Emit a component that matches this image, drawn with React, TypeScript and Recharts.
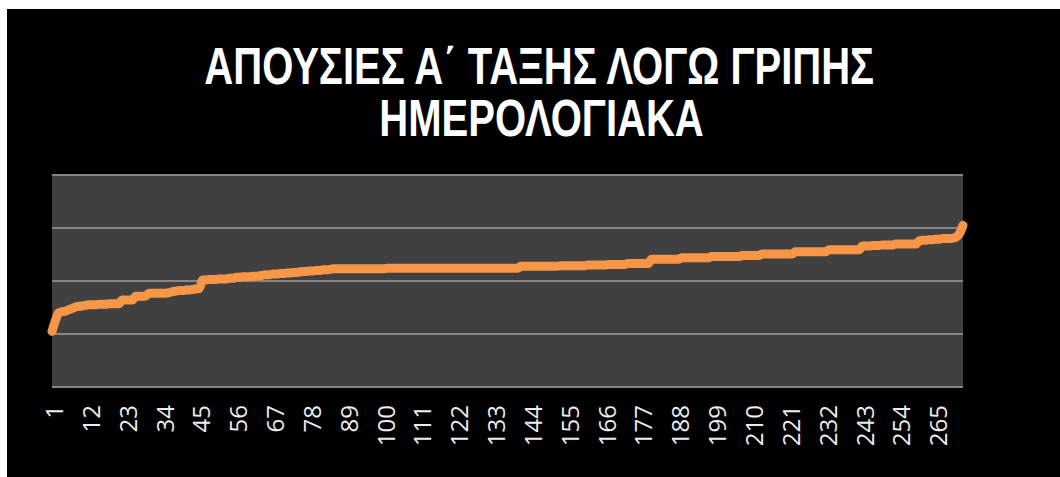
import React from 'react';
import { LineChart, Line, XAxis, YAxis, CartesianGrid } from 'recharts';

// absences per day, sorted (y in gridline units)
const absences = [
  1.05, 1.25, 1.4, 1.42, 1.43, 1.46, 1.48, 1.51, 1.52, 1.53,
  1.54, 1.55, 1.55, 1.55, 1.56, 1.56, 1.56, 1.57, 1.57, 1.57,
  1.57, 1.64, 1.64, 1.64, 1.64, 1.71, 1.71, 1.71, 1.72, 1.77,
  1.77, 1.77, 1.77, 1.77, 1.77, 1.78, 1.8, 1.81, 1.82, 1.82,
  1.83, 1.83, 1.84, 1.85, 1.86, 2.02, 2.02, 2.03, 2.03, 2.03,
  2.04, 2.04, 2.04, 2.05, 2.05, 2.07, 2.07, 2.08, 2.08, 2.08,
  2.09, 2.09, 2.1, 2.11, 2.12, 2.12, 2.13, 2.13, 2.14, 2.14,
  2.15, 2.15, 2.16, 2.16, 2.17, 2.18, 2.18, 2.19, 2.19, 2.2,
  2.2, 2.21, 2.21, 2.22, 2.23, 2.23, 2.23, 2.23, 2.23, 2.23,
  2.23, 2.23, 2.23, 2.23, 2.23, 2.23, 2.23, 2.23, 2.23, 2.23,
  2.24, 2.24, 2.24, 2.24, 2.24, 2.24, 2.24, 2.24, 2.24, 2.24,
  2.24, 2.24, 2.24, 2.24, 2.24, 2.24, 2.24, 2.24, 2.24, 2.24,
  2.24, 2.24, 2.24, 2.24, 2.24, 2.24, 2.24, 2.24, 2.24, 2.24,
  2.24, 2.24, 2.24, 2.24, 2.24, 2.24, 2.24, 2.24, 2.24, 2.24,
  2.28, 2.28, 2.28, 2.28, 2.28, 2.28, 2.28, 2.28, 2.28, 2.28,
  2.28, 2.28, 2.29, 2.29, 2.29, 2.29, 2.29, 2.29, 2.29, 2.29,
  2.3, 2.3, 2.3, 2.3, 2.3, 2.3, 2.31, 2.31, 2.31, 2.31,
  2.31, 2.31, 2.33, 2.33, 2.33, 2.33, 2.33, 2.33, 2.33, 2.41,
  2.41, 2.41, 2.41, 2.41, 2.41, 2.41, 2.41, 2.41, 2.44, 2.44,
  2.44, 2.44, 2.44, 2.44, 2.44, 2.44, 2.44, 2.46, 2.46, 2.46,
  2.46, 2.46, 2.46, 2.46, 2.46, 2.46, 2.48, 2.48, 2.48, 2.48,
  2.48, 2.48, 2.51, 2.51, 2.51, 2.51, 2.51, 2.51, 2.51, 2.51,
  2.51, 2.51, 2.55, 2.55, 2.55, 2.55, 2.55, 2.55, 2.55, 2.55,
  2.55, 2.55, 2.59, 2.59, 2.59, 2.59, 2.59, 2.59, 2.59, 2.59,
  2.59, 2.59, 2.66, 2.66, 2.66, 2.67, 2.67, 2.67, 2.68, 2.68,
  2.68, 2.68, 2.7, 2.7, 2.7, 2.7, 2.7, 2.7, 2.7, 2.76,
  2.77, 2.77, 2.78, 2.78, 2.79, 2.79, 2.8, 2.8, 2.8, 2.81,
  2.83, 2.9, 3.05,
];

const yTicks = [0, 1, 2, 3, 4];
const titleLines = ['ΑΠΟΥΣΙΕΣ Α΄ ΤΑΞΗΣ ΛΟΓΩ ΓΡΙΠΗΣ', 'ΗΜΕΡΟΛΟΓΙΑΚΑ'];

const data = absences.map((v, i) => ({ day: String(i + 1), value: v }));

const DayTick = (props: any) => {
  const { x, y, payload } = props;
  const tx = x + 11;
  const ty = y + 10;
  return (
    <text
      x={tx}
      y={ty}
      transform={`rotate(-90 ${tx} ${ty})`}
      textAnchor="end"
      fill="#ececec"
      fontSize={24}
      fontFamily="'Open Sans', sans-serif"
    >
      {payload.value}
    </text>
  );
};

export default function App() {
  return (
    <div
      style={{
        position: 'absolute',
        left: 7,
        top: 9,
        width: 1053,
        height: 468,
        background: '#000',
      }}
    >
      {/* title: condensed bold, like the original's Calibri */}
      <svg width={1053} height={160} style={{ position: 'absolute', left: 0, top: 0 }}>
        <g transform="translate(533 0) scale(0.77 1)">
          <text
            textAnchor="middle"
            fill="#fff"
            fontSize={52}
            fontWeight="bold"
            fontFamily="'Liberation Sans', sans-serif"
          >
            <tspan x={-1} y={75}>{titleLines[0]}</tspan>
            <tspan x={2} y={127}>{titleLines[1]}</tspan>
          </text>
        </g>
      </svg>
      <LineChart
        width={1053}
        height={468}
        data={data}
        margin={{ top: 166, right: 97, left: 45, bottom: 0 }}
        style={{ position: 'absolute', left: 0, top: 0 }}
      >
        <CartesianGrid
          vertical={false}
          fill="#404040"
          stroke="#868686"
          strokeWidth={2}
        />
        <XAxis
          dataKey="day"
          scale="point"
          interval={10}
          height={90}
          tickLine={false}
          axisLine={{ stroke: '#868686', strokeWidth: 2 }}
          tick={<DayTick />}
        />
        <YAxis hide domain={[0, 4]} ticks={yTicks} />
        <Line
          type="monotone"
          dataKey="value"
          stroke="#f79646"
          strokeWidth={9}
          strokeLinecap="round"
          strokeLinejoin="round"
          dot={false}
          isAnimationActive={false}
        />
      </LineChart>
    </div>
  );
}
